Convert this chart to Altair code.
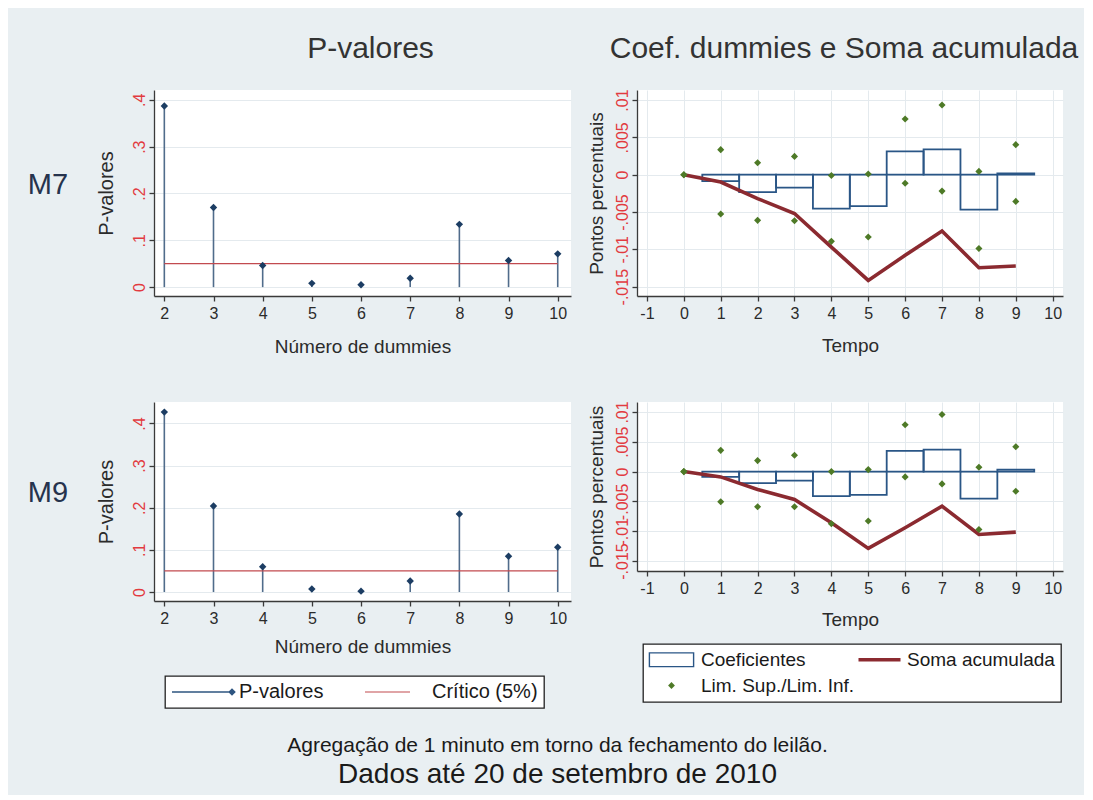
import altair as alt
import pandas as pd

FONT = "Liberation Sans, Arial, Helvetica, sans-serif"
BG = "#e9eff2"
GRID = "#e4eaee"
AX = "#3a3a3a"
TXT = "#2b2b2b"
YLAB = "#e23a40"
STEM = "#506c8b"
NAVY = "#1c3d63"
RED = "#c24a4f"
BAR = "#2a5686"
MAROON = "#8b2a30"
GREEN = "#4e7a27"

# ---------------- data ----------------
dummies = [2, 3, 4, 5, 6, 7, 8, 9, 10]
p_m7 = [0.387, 0.170, 0.046, 0.008, 0.005, 0.019, 0.134, 0.057, 0.071]
p_m9 = [0.427, 0.204, 0.060, 0.007, 0.002, 0.026, 0.185, 0.085, 0.106]
critico = [0.05, 0.05, 0.05, 0.05, 0.05, 0.05, 0.05, 0.05, 0.05]

tempo = [0, 1, 2, 3, 4, 5, 6, 7, 8, 9]
coef_t = [1, 2, 3, 4, 5, 6, 7, 8, 9]

coef_m7 = [-0.00086, -0.00233, -0.00174, -0.00455, -0.0042, 0.00312, 0.00339, -0.00469, 0.00017]
soma_m7 = [0, -0.00098, -0.0032, -0.0052, -0.0097, -0.01416, -0.0108, -0.00755, -0.01246, -0.01224]
sup_m7 = [0, 0.00335, 0.0016, 0.00245, -0.0001, 0.0001, 0.00745, 0.00933, 0.00044, 0.00402]
inf_m7 = [0, -0.00527, -0.00612, -0.00616, -0.00893, -0.00835, -0.00116, -0.0022, -0.0099, -0.00358]

coef_m9 = [-0.00089, -0.00195, -0.0015, -0.00413, -0.0039, 0.00346, 0.00368, -0.00452, 0.00033]
soma_m9 = [0, -0.00089, -0.0030, -0.00468, -0.00858, -0.01288, -0.00942, -0.0058, -0.01054, -0.01015]
sup_m9 = [0, 0.00356, 0.00184, 0.00273, 0.0, 0.00033, 0.00786, 0.00958, 0.00072, 0.00418]
inf_m9 = [0, -0.00507, -0.0059, -0.0059, -0.00875, -0.0083, -0.00089, -0.00206, -0.0097, -0.00329]

p_ticks = [0, 0.1, 0.2, 0.3, 0.4]
c_ticks = [-0.015, -0.01, -0.005, 0, 0.005, 0.01]
t_ticks = [-1, 0, 1, 2, 3, 4, 5, 6, 7, 8, 9, 10]

leg_p = ["P-valores", "Crítico (5%)"]
leg_p_colors = ["#2e5580", RED]
leg_p_shapes = [
    "M-14.25,-0.19H0.75V0.19H-14.25Z M0.75,-0.95L1.7,0L0.75,0.95L-0.2,0Z",
    "M-14.25,-0.15H-3V0.15H-14.25Z",
]
leg_c = ["Coeficientes", "Soma acumulada", "Lim. Sup./Lim. Inf."]
leg_c_colors = [BAR, MAROON, GREEN]
leg_c_shapes = [
    "M-5.7,-1.9H5.7V1.9H-5.7Z M-5.35,-1.55V1.55H5.35V-1.55Z",
    "M-4.75,-0.45H5.75V0.45H-4.75Z",
    "M0,-0.85L0.85,0L0,0.85L-0.85,0Z",
]

col_titles = ["P-valores", "Coef. dummies e Soma acumulada"]
row_labels = ["M7", "M9"]
caption1 = "Agregação de 1 minuto em torno da fechamento do leilão."
caption2 = "Dados até 20 de setembro de 2010"

Y_EXPR = "replace(replace(format(datum.value, '~g'), '\u2212', '-'), '0.', '.')"
X_EXPR = "replace(format(datum.value, '~g'), '\u2212', '-')"


def xaxis(values, title, grid, tpad):
    return alt.Axis(values=values, title=title, grid=grid, gridColor=GRID, gridWidth=1,
                    domainColor=AX, domainWidth=1.3, tickColor=AX, tickWidth=1.3, tickSize=5,
                    labelFont=FONT, labelFontSize=16, labelColor=TXT, labelPadding=4, labelAngle=0,
                    labelOverlap=False, labelFlush=False, labelExpr=X_EXPR,
                    titleFont=FONT, titleFontSize=19, titleFontWeight="normal", titleColor=TXT,
                    titlePadding=tpad)


def yaxis(values, title, tsize, tpad):
    return alt.Axis(values=values, title=title, grid=True, gridColor=GRID, gridWidth=1,
                    domainColor=AX, domainWidth=1.3, tickColor=AX, tickWidth=1.3, tickSize=5,
                    labelFont=FONT, labelFontSize=16, labelColor=YLAB, labelPadding=2, labelAngle=270,
                    labelAlign="center", labelBaseline="bottom", labelOverlap=False, labelFlush=False,
                    labelExpr=Y_EXPR,
                    titleFont=FONT, titleFontSize=tsize, titleFontWeight="normal", titleColor=TXT,
                    titlePadding=tpad)


def legend_layer(labels, colors, shapes, lx, ly, col_pad, row_pad, sym_off, lab_off, fsize, field):
    leg = alt.Legend(title=None, orient="none", legendX=lx, legendY=ly, direction="horizontal",
                     columns=2, columnPadding=col_pad, rowPadding=row_pad, padding=6,
                     strokeColor="#222222", fillColor="white",
                     labelFont=FONT, labelFontSize=fsize, labelColor="#1a1a1a",
                     symbolSize=64, symbolOffset=sym_off, labelOffset=lab_off,
                     symbolStrokeWidth=0, symbolOpacity=1, labelLimit=400)
    df = pd.DataFrame({field: labels})
    return alt.Chart(df).mark_point(filled=True, size=64, opacity=1).encode(
        color=alt.Color(f"{field}:N", scale=alt.Scale(domain=labels, range=colors), legend=leg),
        shape=alt.Shape(f"{field}:N", scale=alt.Scale(domain=labels, range=shapes), legend=leg),
    ).transform_filter("false")


def pval_chart(p, ydom, w, h, with_legend, xpad):
    df = pd.DataFrame({"d": dummies, "p": p, "c": critico})
    base = alt.Chart(df)
    xs = alt.Scale(domain=[1.79, 10.27], nice=False, zero=False)
    ys = alt.Scale(domain=ydom, nice=False, zero=False)
    x = alt.X("d:Q", scale=xs, axis=xaxis(dummies, "Número de dummies", False, xpad))
    y = alt.Y("p:Q", scale=ys, axis=yaxis(p_ticks, "P-valores", 20, 15))
    stems = base.mark_rule(color=STEM, strokeWidth=1.6).encode(x=x, y=y, y2=alt.datum(0))
    crit = base.mark_line(color=RED, strokeWidth=1.2).encode(
        x=x, y=alt.Y("c:Q", scale=ys, title="P-valores"))
    pts = base.mark_point(shape="diamond", filled=True, size=55, color=NAVY, opacity=1).encode(x=x, y=y)
    layers = [stems, crit, pts]
    if with_legend:
        layers.append(legend_layer(leg_p, leg_p_colors, leg_p_shapes, 11, 274, 40, 4, 48, 0, 20, "serie_p"))
    return alt.layer(*layers).properties(
        width=w, height=h, view=alt.ViewBackground(fill="white", strokeWidth=0))


def coef_chart(coef, soma, sup, inf, ydom, w, h, with_legend, xpad):
    cdf = pd.DataFrame({"t": coef_t, "c": coef})
    sdf = pd.DataFrame({"t": tempo, "s": soma})
    ldf = pd.DataFrame({"t": tempo + tempo, "v": sup + inf})
    xs = alt.Scale(domain=[-1.27, 10.28], nice=False, zero=False)
    ys = alt.Scale(domain=ydom, nice=False, zero=False)
    xax = xaxis(t_ticks, "Tempo", True, xpad)
    yax = yaxis(c_ticks, "Pontos percentuais", 19, 8)
    bars = alt.Chart(cdf).transform_calculate(
        t0="datum.t - 0.5", t1="datum.t + 0.5"
    ).mark_bar(fill="white", fillOpacity=0, stroke=BAR, strokeWidth=1.8).encode(
        x=alt.X("t0:Q", scale=xs, axis=xax), x2="t1:Q",
        y=alt.Y("c:Q", scale=ys, axis=yax), y2=alt.datum(0))
    line = alt.Chart(sdf).mark_line(color=MAROON, strokeWidth=3.6).encode(
        x=alt.X("t:Q", scale=xs, axis=xax), y=alt.Y("s:Q", scale=ys, axis=yax))
    pts = alt.Chart(ldf).mark_point(shape="diamond", filled=True, size=50, color=GREEN, opacity=1).encode(
        x=alt.X("t:Q", scale=xs, axis=xax), y=alt.Y("v:Q", scale=ys, axis=yax))
    layers = [bars, line, pts]
    if with_legend:
        layers.append(legend_layer(leg_c, leg_c_colors, leg_c_shapes, 6, 242, 0, 6, 13, 20, 19, "serie_c"))
    return alt.layer(*layers).properties(
        width=w, height=h, view=alt.ViewBackground(fill="white", strokeWidth=0))


def text_chart(txt, w, h, size, color, dy=0, dx=0):
    return alt.Chart(pd.DataFrame({"t": [txt]})).mark_text(
        font=FONT, fontSize=size, color=color, dy=dy, dx=dx).encode(text="t:N").properties(width=w, height=h)


tl = pval_chart(p_m7, [-0.019, 0.421], 417, 206, False, 16)
tr = coef_chart(coef_m7, soma_m7, sup_m7, inf_m7, [-0.01625, 0.01134], 426, 206, False, 15)
bl = pval_chart(p_m9, [-0.0214, 0.451], 417, 199, True, 11)
br = coef_chart(coef_m9, soma_m9, sup_m9, inf_m9, [-0.01667, 0.01167], 426, 169, True, 14)

cells = [
    text_chart("", 80, 82, 20, TXT),
    text_chart(col_titles[0], 417, 82, 30, "#333333", dx=8),
    text_chart(col_titles[1], 426, 82, 30, "#333333", dx=-6),
    text_chart(row_labels[0], 80, 312, 29, "#26334d", dy=-61), tl, tr,
    text_chart(row_labels[1], 80, 320, 29, "#26334d", dy=-69), bl, br,
    text_chart("", 80, 40, 20, TXT),
    text_chart(caption1, 417, 40, 21, "#1a1a1a", dy=4, dx=195),
    text_chart("", 426, 40, 20, TXT),
    text_chart("", 80, 30, 20, TXT),
    text_chart(caption2, 417, 30, 28, "#1a1a1a", dy=-2, dx=195),
    text_chart("", 426, 30, 20, TXT),
]

chart = alt.concat(*cells, columns=3, spacing={"row": 0, "column": 66}, bounds="flush",
                   align="each").resolve_scale(
    color="independent", shape="independent"
).properties(
    background=BG, padding={"left": 0, "top": 0, "right": 5, "bottom": 3}
).configure_view(strokeWidth=0).configure_legend(strokeWidth=1.3)

chart.save("out.html", embed_options={"renderer": "svg", "actions": False})
